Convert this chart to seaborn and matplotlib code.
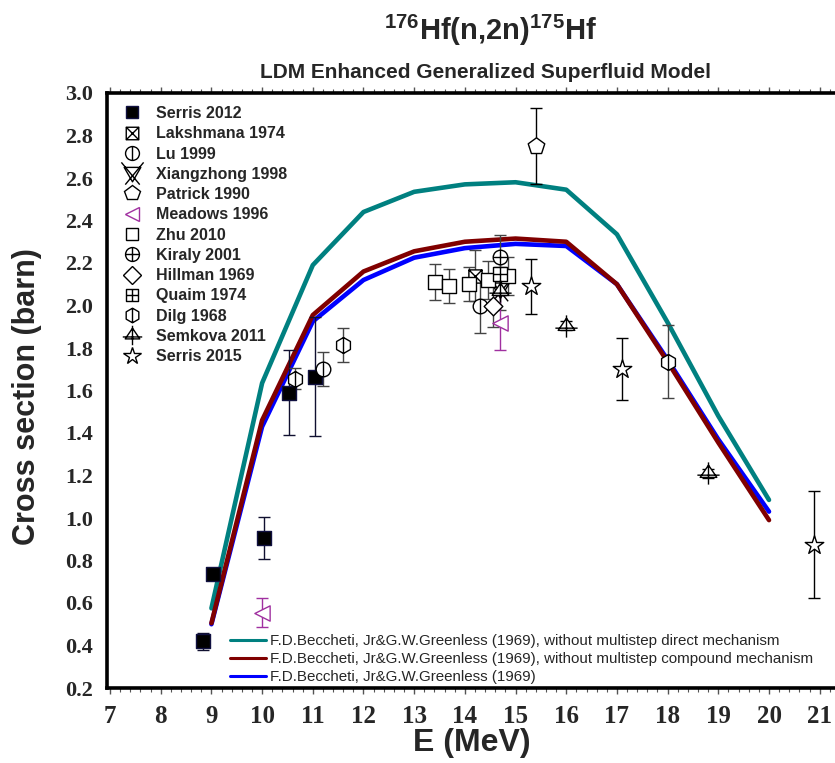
import matplotlib
matplotlib.use("Agg")
import matplotlib.pyplot as plt
from matplotlib.path import Path
from matplotlib.lines import Line2D
from matplotlib.ticker import MultipleLocator, FormatStrFormatter
import numpy as np
import pandas as pd
import seaborn as sns

# ---- model calculations (barn) ----
energy_model = [9, 10, 11, 12, 13, 14, 15, 16, 17, 18, 19, 20]
xs_no_direct = [0.575, 1.635, 2.19, 2.44, 2.535, 2.57, 2.58, 2.545, 2.335, 1.92, 1.48, 1.085]
xs_no_compound = [0.505, 1.46, 1.955, 2.16, 2.255, 2.30, 2.315, 2.30, 2.10, 1.735, 1.355, 0.99]
xs_full = [0.50, 1.43, 1.925, 2.12, 2.225, 2.27, 2.29, 2.28, 2.10, 1.745, 1.37, 1.03]

model_labels = [
    "F.D.Beccheti, Jr&G.W.Greenless (1969), without multistep direct mechanism",
    "F.D.Beccheti, Jr&G.W.Greenless (1969), without multistep compound mechanism",
    "F.D.Beccheti, Jr&G.W.Greenless (1969)",
]

# ---- experimental data (E in MeV, cross section and uncertainty in barn) ----
serris2012_e = [8.83, 9.03, 10.04, 10.53, 11.04]
serris2012_xs = [0.42, 0.735, 0.905, 1.59, 1.665]
serris2012_err = [0.04, 0.02, 0.10, 0.20, 0.28]

lakshmana1974_e = [14.2]
lakshmana1974_xs = [2.14]
lakshmana1974_err = [0.12]

lu1999_e = [11.2, 14.3]
lu1999_xs = [1.70, 2.00]
lu1999_err = [0.08, 0.13]

xiangzhong1998_e = [14.7]
xiangzhong1998_xs = [2.08]
xiangzhong1998_err = [0.10]

patrick1990_e = [15.4]
patrick1990_xs = [2.75]
patrick1990_err = [0.18]

meadows1996_e = [10.0, 14.7]
meadows1996_xs = [0.555, 1.92]
meadows1996_err = [0.07, 0.13]

zhu2010_e = [13.41, 13.69, 14.08, 14.45, 14.85]
zhu2010_xs = [2.11, 2.09, 2.10, 2.12, 2.14]
zhu2010_err = [0.085, 0.08, 0.08, 0.09, 0.09]

kiraly2001_e = [14.7]
kiraly2001_xs = [2.23]
kiraly2001_err = [0.10]

hillman1969_e = [14.55]
hillman1969_xs = [2.00]
hillman1969_err = [0.10]

quaim1974_e = [14.7]
quaim1974_xs = [2.15]
quaim1974_err = [0.08]

dilg1968_e = [10.65, 11.6, 18.0]
dilg1968_xs = [1.655, 1.815, 1.736]
dilg1968_err = [0.05, 0.08, 0.17]

semkova2011_e = [14.7, 16.0, 18.8]
semkova2011_xs = [2.07, 1.905, 1.21]
semkova2011_err = [0.02, 0.02, 0.02]

serris2015_e = [15.3, 17.1, 20.88]
serris2015_xs = [2.09, 1.70, 0.875]
serris2015_err = [0.13, 0.145, 0.25]

# ---- custom marker shapes ----
MOVE, LINE, CLOSE = Path.MOVETO, Path.LINETO, Path.CLOSEPOLY


def polygon(pts):
    pts = list(pts)
    return Path(pts + [pts[0]], [MOVE] + [LINE] * (len(pts) - 1) + [CLOSE])


def segments(*lines):
    verts, codes = [], []
    for a, b in lines:
        verts += [a, b]
        codes += [MOVE, LINE]
    return Path(verts, codes)


square = polygon([(-1, -1), (1, -1), (1, 1), (-1, 1)])
circle = Path.unit_circle()
hexagon = polygon([(np.cos(np.radians(90 + 60 * k)), np.sin(np.radians(90 + 60 * k))) for k in range(6)])

box_x = Path.make_compound_path(square, segments(((-1, -1), (1, 1)), ((-1, 1), (1, -1))))
box_plus = Path.make_compound_path(square, segments(((0, -1), (0, 1)), ((-1, 0), (1, 0))))
circ_vline = Path.make_compound_path(circle, segments(((0, -1), (0, 1))))
circ_plus = Path.make_compound_path(circle, segments(((0, -1), (0, 1)), ((-1, 0), (1, 0))))
hex_vline = Path.make_compound_path(hexagon, segments(((0, -1), (0, 1))))
tri_cross = Path.make_compound_path(
    polygon([(-0.75, -0.35), (0.75, -0.35), (0, 0.75)]),
    segments(((0, 1.0), (0, -1.0)), ((-1.0, -0.15), (1.0, -0.15))))
tri_down_x = Path.make_compound_path(
    polygon([(-0.75, 0.55), (0.75, 0.55), (0, -0.75)]),
    segments(((-1.0, 1.0), (0.65, -1.0)), ((1.0, 1.0), (-0.65, -1.0))))

purple = "#a030a0"

series = [
    ("Serris 2012", serris2012_e, serris2012_xs, serris2012_err,
     dict(marker="s", ms=10, lms=9, mfc="black", mec="#101040", ecolor="#101030")),
    ("Lakshmana 1974", lakshmana1974_e, lakshmana1974_xs, lakshmana1974_err,
     dict(marker=box_x, ms=9.5, lms=9, mfc="white", mec="black", ecolor="#444444")),
    ("Lu 1999", lu1999_e, lu1999_xs, lu1999_err,
     dict(marker=circ_vline, ms=10.5, lms=10, mfc="white", mec="black", ecolor="#444444")),
    ("Xiangzhong 1998", xiangzhong1998_e, xiangzhong1998_xs, xiangzhong1998_err,
     dict(marker=tri_down_x, ms=17, lms=16, mfc="white", mec="black", ecolor="#444444")),
    ("Patrick 1990", patrick1990_e, patrick1990_xs, patrick1990_err,
     dict(marker="p", ms=12.5, lms=11.5, mfc="white", mec="black", ecolor="black")),
    ("Meadows 1996", meadows1996_e, meadows1996_xs, meadows1996_err,
     dict(marker="<", ms=11, lms=10, mfc="white", mec=purple, ecolor=purple)),
    ("Zhu 2010", zhu2010_e, zhu2010_xs, zhu2010_err,
     dict(marker="s", ms=10, lms=9, mfc="white", mec="black", ecolor="#444444")),
    ("Kiraly 2001", kiraly2001_e, kiraly2001_xs, kiraly2001_err,
     dict(marker=circ_plus, ms=10.5, lms=10, mfc="white", mec="black", ecolor="#444444")),
    ("Hillman 1969", hillman1969_e, hillman1969_xs, hillman1969_err,
     dict(marker="D", ms=9.5, lms=9.5, mfc="white", mec="black", ecolor="#444444")),
    ("Quaim 1974", quaim1974_e, quaim1974_xs, quaim1974_err,
     dict(marker=box_plus, ms=9.5, lms=9, mfc="white", mec="black", ecolor="#444444")),
    ("Dilg 1968", dilg1968_e, dilg1968_xs, dilg1968_err,
     dict(marker=hex_vline, ms=11.5, lms=10.5, mfc="white", mec="black", ecolor="#444444")),
    ("Semkova 2011", semkova2011_e, semkova2011_xs, semkova2011_err,
     dict(marker=tri_cross, ms=16, lms=14, mfc="white", mec="black", ecolor="black")),
    ("Serris 2015", serris2015_e, serris2015_xs, serris2015_err,
     dict(marker="*", ms=14, lms=13, mfc="white", mec="black", ecolor="black")),
]

# ---- figure ----
sns.set_style("white")
plt.rcParams["font.family"] = ["Liberation Sans", "DejaVu Sans"]
plt.rcParams["mathtext.fontset"] = "custom"
plt.rcParams["mathtext.rm"] = "Liberation Sans:bold"
plt.rcParams["mathtext.bf"] = "Liberation Sans:bold"
plt.rcParams["mathtext.it"] = "Liberation Sans:bold"

W, H = 835, 763
fig = plt.figure(figsize=(W / 100, H / 100), dpi=100)
ax = fig.add_axes([107 / W, 75 / H, (842 - 107) / W, 595 / H])

model_df = pd.DataFrame({
    "E": energy_model * 3,
    "xs": xs_no_direct + xs_no_compound + xs_full,
    "model": [model_labels[0]] * 12 + [model_labels[1]] * 12 + [model_labels[2]] * 12,
})
model_colors = {model_labels[0]: "#008080", model_labels[1]: "#800000", model_labels[2]: "#0000ff"}
draw_order = [model_labels[0], model_labels[2], model_labels[1]]
for name in draw_order:
    sns.lineplot(data=model_df[model_df["model"] == name], x="E", y="xs",
                 color=model_colors[name], linewidth=3.3, ax=ax,
                 legend=False, sort=True, estimator=None, zorder=3)

data_handles = []
for label, e, xs, err, st in series:
    ax.errorbar(e, xs, yerr=err, fmt="none", ecolor=st["ecolor"], elinewidth=1.0,
                capsize=4.5, capthick=1.0, zorder=4)
    sns.scatterplot(x=e, y=xs, marker=st["marker"], s=st["ms"] ** 2,
                    facecolor=st["mfc"], edgecolor=st["mec"], linewidth=1.0,
                    ax=ax, zorder=5, legend=False)
    data_handles.append(Line2D([], [], linestyle="none", marker=st["marker"],
                               markersize=st["lms"], markerfacecolor=st["mfc"],
                               markeredgecolor=st["mec"], markeredgewidth=1.0,
                               label=label))

ax.set_xlim(6.94, 21.44)
ax.set_ylim(0.2, 3.0)
ax.xaxis.set_major_locator(MultipleLocator(1))
ax.xaxis.set_minor_locator(MultipleLocator(0.2))
ax.yaxis.set_major_locator(MultipleLocator(0.2))
ax.yaxis.set_major_formatter(FormatStrFormatter("%.1f"))
ax.set_xlabel("")
ax.set_ylabel("")

for side, sp in ax.spines.items():
    sp.set_color("black")
    sp.set_linewidth(2.6)

ax.tick_params(axis="x", which="both", direction="out", bottom=True, top=True,
               color="#555555")
ax.tick_params(axis="x", which="major", length=4, width=1.0, pad=8)
ax.tick_params(axis="x", which="minor", length=3, width=0.8)
ax.tick_params(axis="y", which="both", left=True, length=0, pad=10)

for t in ax.get_xticklabels():
    t.set_fontfamily("Liberation Serif")
    t.set_fontweight("bold")
    t.set_fontsize(18)
for t in ax.get_yticklabels():
    t.set_fontfamily("Liberation Serif")
    t.set_fontweight("bold")
    t.set_fontsize(16)

leg1 = ax.legend(handles=data_handles, loc="upper left",
                 bbox_to_anchor=((119 - 107) / 735, 1 - (106 - 93) / 595),
                 frameon=False, borderpad=0, borderaxespad=0,
                 handlelength=1.6, handletextpad=0.7, labelspacing=0.33,
                 prop={"family": "Liberation Sans", "weight": "bold", "size": 11.5})
ax.add_artist(leg1)

line_handles = [Line2D([], [], color=model_colors[m], linewidth=2.2, label=m) for m in model_labels]
ax.legend(handles=line_handles, loc="lower left",
          bbox_to_anchor=((230 - 107) / 735, (688 - 684) / 595),
          frameon=False, borderpad=0, borderaxespad=0,
          handlelength=2.4, handletextpad=0.25, labelspacing=0.25,
          prop={"family": "Liberation Sans", "size": 10.9})

fig.text(490 / W, 1 - 30 / H, r"$\mathbf{^{176}Hf(n{,}2n)^{175}Hf}$",
         ha="center", va="center", fontsize=21)
fig.text(485 / W, 1 - 73 / H, "LDM Enhanced Generalized Superfluid Model",
         ha="center", va="center", fontsize=15, fontweight="bold")
fig.text(472 / W, 1 - 743 / H, "E (MeV)", ha="center", va="center",
         fontsize=23, fontweight="bold")
fig.text(27 / W, 1 - 397 / H, "Cross section (barn)", ha="center", va="center",
         rotation=90, fontsize=22, fontweight="bold")

fig.savefig("out.png", dpi=100)
